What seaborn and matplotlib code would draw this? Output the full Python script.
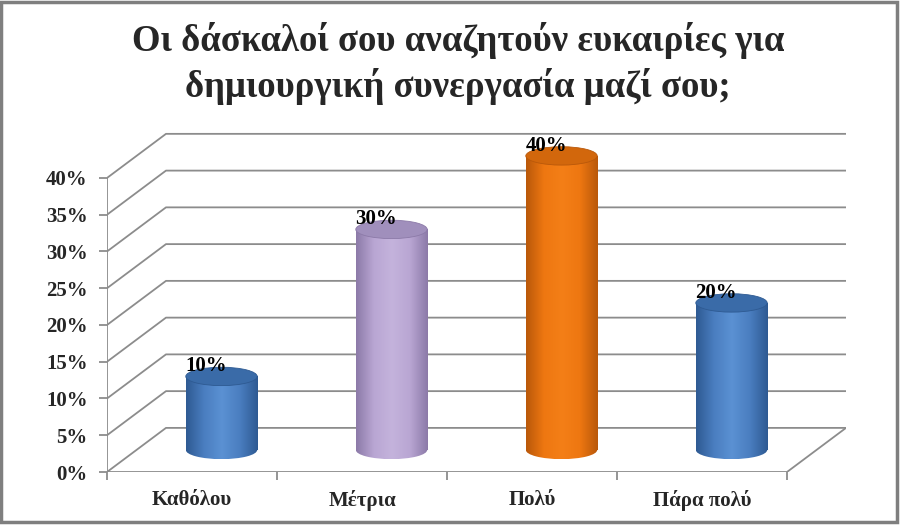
import numpy as np
import pandas as pd
import matplotlib
matplotlib.use("Agg")
import matplotlib.pyplot as plt
import seaborn as sns
from matplotlib.colors import LinearSegmentedColormap
from matplotlib.patches import Ellipse, Rectangle

### Δεδομένα
kategories = ["Καθόλου", "Μέτρια", "Πολύ", "Πάρα πολύ"]
pososta = [10, 30, 40, 20]
etiketes = ["10%", "30%", "40%", "20%"]
y_times = [0, 5, 10, 15, 20, 25, 30, 35, 40]
y_etiketes = ["0%", "5%", "10%", "15%", "20%", "25%", "30%", "35%", "40%"]
titlos = "Οι δάσκαλοί σου αναζητούν ευκαιρίες για\nδημιουργική συνεργασία μαζί σου;"

# χρώματα κυλίνδρων (σκούρο άκρο, βασικό, φωτεινό, κορυφή)
xromata_kyr = ["#4A7EC0", "#B9A6D3", "#EE7711", "#4A7EC0"]
xromata_skoura = ["#2E5A92", "#8C7AA8", "#B9580A", "#2E5A92"]
xromata_fota = ["#5B91D3", "#C4B3DC", "#F47F17", "#5B91D3"]
xromata_korifi = ["#3A6BA8", "#A08FBC", "#D2670C", "#3A6BA8"]

DX = 0.347   # βάθος σε μονάδες κατηγορίας
DY = 6.0     # βάθος σε %
EH = 2.5     # ύψος έλλειψης σε %
GRID = "#8C8C8C"

sns.set_theme(style="white")
plt.rcParams["font.family"] = ["Liberation Serif", "DejaVu Serif"]

fig = plt.figure(figsize=(9.03, 5.26), dpi=100)
ax = fig.add_axes([107 / 903, 54 / 526, 739 / 903, 345.5 / 526])

df = pd.DataFrame({"kat": kategories, "pos": pososta})
sns.barplot(data=df, x="kat", y="pos", hue="kat", palette=xromata_kyr,
            width=0.42, saturation=1, legend=False, ax=ax, zorder=2)
bares = list(ax.patches)

# τοίχοι / γραμμές πλέγματος (3Δ)
for v in y_times:
    ax.plot([-0.5, -0.5 + DX, 3.5 + DX], [v, v + DY, v + DY], color=GRID, lw=1.3, zorder=1)
ax.plot([-0.5, -0.5], [0, 40], color=GRID, lw=1.3, zorder=1)
ax.plot([-0.5, 3.5, 3.5 + DX], [0, 0, DY], color=GRID, lw=1.3, zorder=1)

grad = np.linspace(0, 1, 256)[None, :]
for i, p in enumerate(bares):
    x0 = p.get_x() + DX / 2
    w = p.get_width()
    h = p.get_height()
    y0 = DY / 2
    p.set_x(x0)
    p.set_y(y0)
    p.set_facecolor("none")
    p.set_edgecolor("none")
    cmap = LinearSegmentedColormap.from_list(
        f"c{i}", [xromata_skoura[i], xromata_kyr[i], xromata_fota[i], xromata_kyr[i], xromata_skoura[i]])
    kato = Ellipse((x0 + w / 2, y0), w, EH, facecolor="none", edgecolor="none")
    ax.add_patch(kato)
    for clip in (p, kato):
        im = ax.imshow(grad, cmap=cmap, extent=(x0, x0 + w, y0 - EH / 2, y0 + h),
                       aspect="auto", zorder=3, interpolation="bilinear")
        im.set_clip_path(clip)
    pano = Ellipse((x0 + w / 2, y0 + h), w, EH, facecolor=xromata_korifi[i],
                   edgecolor=xromata_skoura[i], lw=0.6, zorder=4)
    ax.add_patch(pano)
    ax.text(x0 + w / 2 - 0.09, y0 + h + 0.7, etiketes[i], ha="center", va="baseline",
            fontsize=15, fontweight="bold", color="black", zorder=5)

ax.set_xlim(-0.5, 3.5 + DX)
ax.set_ylim(0, 47)
ax.set_xlabel("")
ax.set_ylabel("")
for s in ax.spines.values():
    s.set_visible(False)

ax.set_yticks(y_times)
ax.set_yticklabels(y_etiketes, fontsize=15, fontweight="bold")
ax.tick_params(axis="y", left=True, length=6, width=1.3, color=GRID, direction="out", pad=8)

ax.set_xticks([-0.5, 0.5, 1.5, 2.5, 3.5])
ax.set_xticklabels([])
ax.set_xticks([0, 1, 2, 3], minor=True)
ax.set_xticklabels(kategories, minor=True, fontsize=15, fontweight="bold")
ax.tick_params(axis="x", which="major", bottom=True, length=6, width=1.3, color=GRID, direction="out")
ax.tick_params(axis="x", which="minor", bottom=False, length=0, pad=13)

fig.text(0.507, 0.958, titlos, ha="center", va="top", fontsize=26.5, fontweight="bold",
         linespacing=1.3)

fig.patches.append(Rectangle((0.001, 0.007), 0.992, 0.99, transform=fig.transFigure,
                             fill=False, edgecolor="#7F7F7F", lw=2.5))

plt.savefig("out.png", dpi=100)
